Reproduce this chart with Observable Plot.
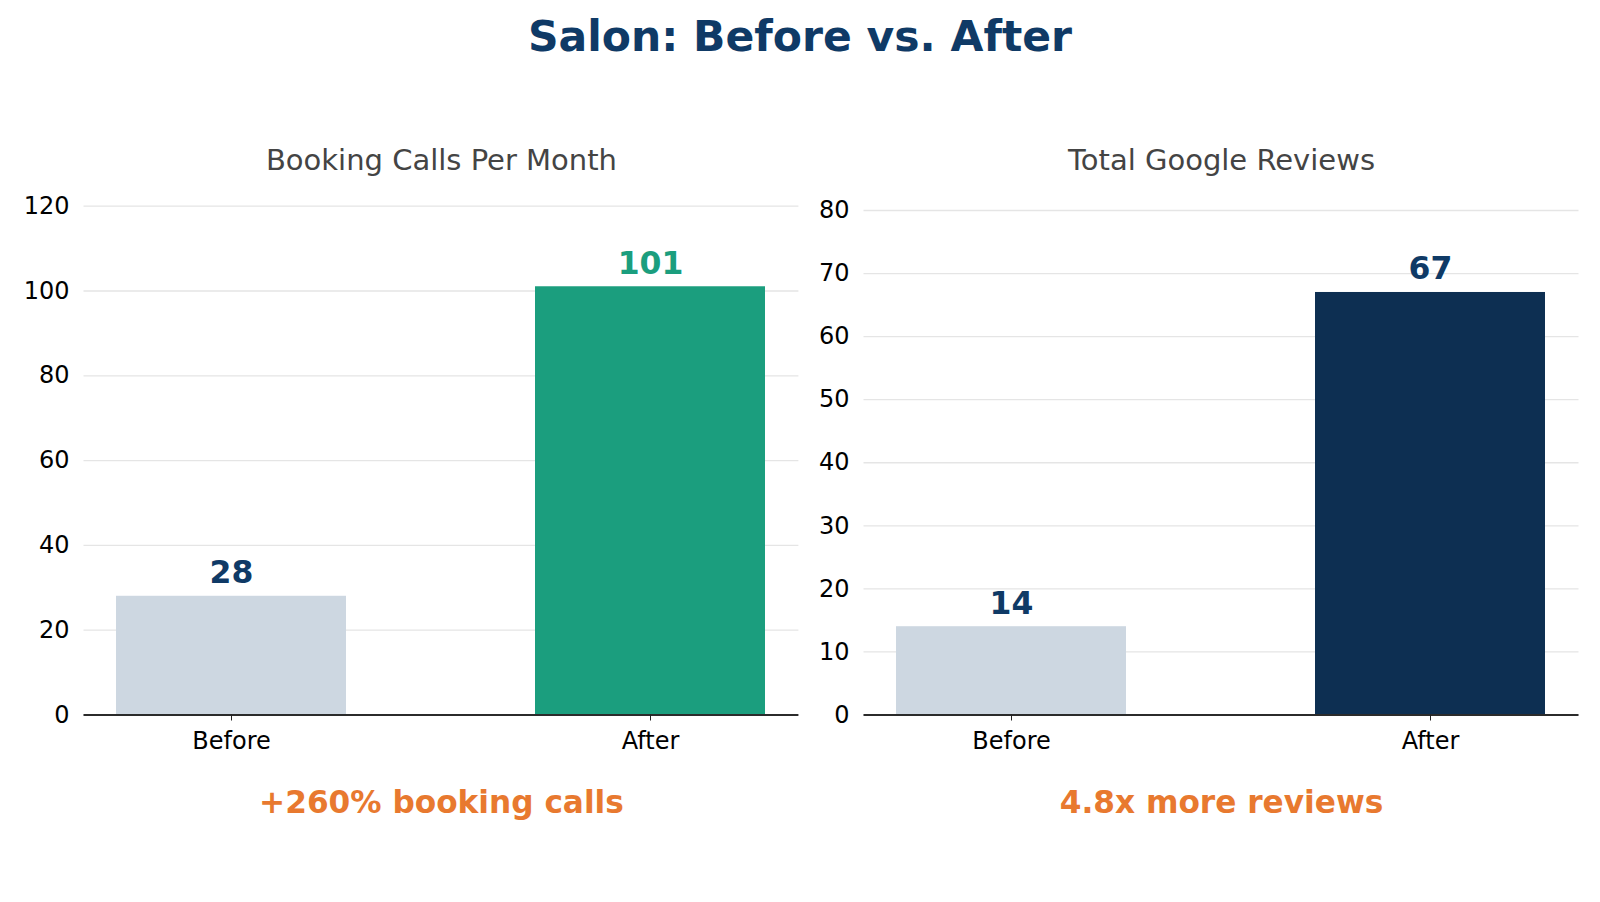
<!DOCTYPE html>
<html>
<head>
<meta charset="utf-8">
<script src="https://cdn.jsdelivr.net/npm/d3@7"></script>
<script src="https://cdn.jsdelivr.net/npm/@observablehq/plot@0.6"></script>
<style>
  html, body { margin: 0; padding: 0; background: #fff; }
  #page { position: relative; width: 1600px; height: 902px; overflow: hidden; background: #fff; font-family: "DejaVu Sans", sans-serif; }
  #title { position: absolute; left: 0; top: 16px; width: 1600px; text-align: center; font-size: 42.5px; line-height: 1; font-weight: bold; color: #0f3a66; }
  .panel { position: absolute; top: 100px; }
</style>
</head>
<body>
<div id="page">
  <div id="title">Salon: Before vs. After</div>
  <div class="panel" id="left"></div>
  <div class="panel" id="right"></div>
</div>
<script>
// ---- data ----
const categories = ["Before", "After"];
const bookingCalls = [28, 101];
const googleReviews = [14, 67];
const bookingTicks = [0, 20, 40, 60, 80, 100, 120];
const reviewTicks = [0, 10, 20, 30, 40, 50, 60, 70, 80];
const panelTitles = ["Booking Calls Per Month", "Total Google Reviews"];
const panelNotes = ["+260% booking calls", "4.8x more reviews"];

// ---- styles ----
const beforeColor = "#cdd7e1";
const bookingAfterColor = "#1b9e7e";
const reviewsAfterColor = "#0d2f52";
const labelNavy = "#0f3a66";
const noteColor = "#e8792f";

function panel({values, ticks, yMax, barColors, labelColors, title, note, marginLeft, marginRight, marginTop}) {
  const rows = categories.map((c, i) => ({category: c, value: values[i], bar: barColors[i], lab: labelColors[i]}));
  const H = 750, marginBottom = 135.5;
  const frameTop = marginTop, frameBottom = H - marginBottom;
  return Plot.plot({
    width: 800,
    height: H,
    marginLeft, marginRight, marginTop, marginBottom,
    style: {fontFamily: "DejaVu Sans, sans-serif", fontSize: "24px", color: "#000", background: "transparent", overflow: "visible"},
    x: {domain: categories, paddingInner: 0.45, paddingOuter: 0.078, label: null},
    y: {domain: [0, yMax], label: null},
    marks: [
      Plot.gridY(ticks, {stroke: "#e5e5e5", strokeOpacity: 1, strokeWidth: 1.3}),
      Plot.barY(rows, {x: "category", y: "value", fill: d => d.bar, inset: 0}),
      Plot.ruleY([0], {stroke: "#2b2b2b", strokeWidth: 1.8}),
      Plot.axisY({ticks, tickSize: 0, tickPadding: 14.5, label: null, fontSize: 24}),
      Plot.axisX({tickSize: 6, tickPadding: 10.5, label: null, fontSize: 24, stroke: "#222"}),
      Plot.text(rows, {x: "category", y: "value", text: d => String(d.value), lineAnchor: "bottom", dy: -13, fontWeight: "bold", fontSize: 31.5, fill: d => d.lab}),
      Plot.text([title], {frameAnchor: "top", lineAnchor: "bottom", dy: 69 - frameTop, fontSize: 29, fill: "#444"}),
      Plot.text([note], {frameAnchor: "bottom", lineAnchor: "bottom", dy: 712 - frameBottom, fontSize: 31.2, fontWeight: "bold", fill: noteColor})
    ]
  });
}

const left = panel({
  values: bookingCalls, ticks: bookingTicks, yMax: 120,
  barColors: [beforeColor, bookingAfterColor],
  labelColors: [labelNavy, bookingAfterColor],
  title: panelTitles[0], note: panelNotes[0],
  marginLeft: 83.5, marginRight: 1.6, marginTop: 105.7
});
const right = panel({
  values: googleReviews, ticks: reviewTicks, yMax: 80,
  barColors: [beforeColor, reviewsAfterColor],
  labelColors: [labelNavy, labelNavy],
  title: panelTitles[1], note: panelNotes[1],
  marginLeft: 63.5, marginRight: 21.5, marginTop: 110
});
const l = document.getElementById("left");
l.style.left = "0px";
l.appendChild(left);
const r = document.getElementById("right");
r.style.left = "800px";
r.appendChild(right);
</script>
</body>
</html>
